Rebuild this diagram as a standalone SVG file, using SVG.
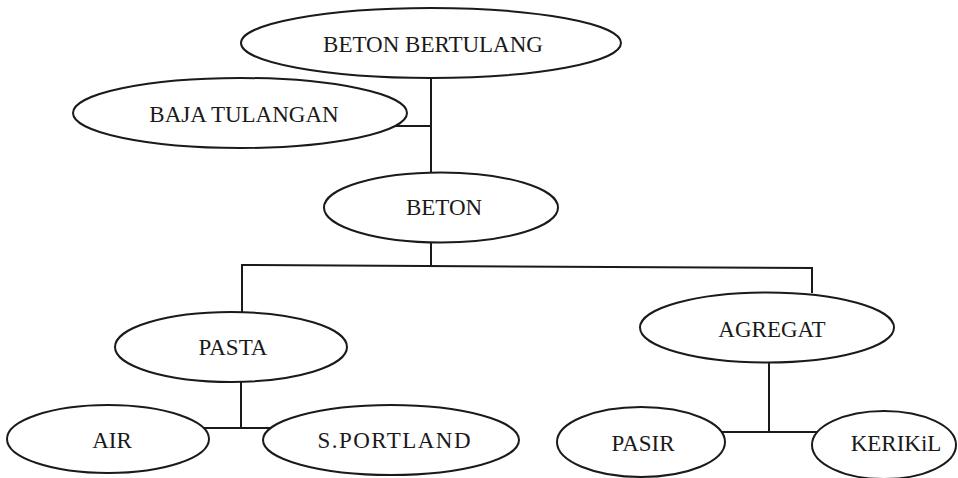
<svg xmlns="http://www.w3.org/2000/svg" width="958" height="478" viewBox="0 0 958 478">
<style>
.n{fill:#fff;stroke:#1a1a1a;stroke-width:2}
.c{fill:none;stroke:#1a1a1a;stroke-width:2}
text{font-family:"Liberation Serif","Times New Roman",serif;font-size:23px;fill:#1a1a1a;text-anchor:middle}
</style>
<rect width="958" height="478" fill="#fff"/>
<g id="connectors">
<polyline class="c" points="431,78 431,173"/>
<polyline class="c" points="395,126 431,126"/>
<polyline class="c" points="431,242 431,266"/>
<polyline class="c" points="242,312 242,265 812,268 812,293"/>
<polyline class="c" points="241,382 241,428"/>
<polyline class="c" points="204,428 271,428"/>
<polyline class="c" points="769,362 769,432"/>
<polyline class="c" points="721,432 818,432"/>
</g>
<g id="beton-bertulang"><ellipse class="n" cx="431" cy="43" rx="190" ry="35"/><text x="433" y="52">BETON BERTULANG</text></g>
<g id="baja-tulangan"><ellipse class="n" cx="240" cy="113" rx="167" ry="35"/><text x="244" y="122">BAJA TULANGAN</text></g>
<g id="beton"><ellipse class="n" cx="441" cy="207.5" rx="117" ry="35"/><text x="444" y="215">BETON</text></g>
<g id="pasta"><ellipse class="n" cx="231" cy="347" rx="116" ry="35"/><text x="233" y="355">PASTA</text></g>
<g id="agregat"><ellipse class="n" cx="767" cy="327.5" rx="127" ry="35"/><text x="772" y="337">AGREGAT</text></g>
<g id="air"><ellipse class="n" cx="108" cy="439" rx="101" ry="34"/><text x="112" y="448">AIR</text></g>
<g id="s-portland"><ellipse class="n" cx="391" cy="440" rx="128" ry="35"/><text x="394" y="448" textLength="153">S.PORTLAND</text></g>
<g id="pasir"><ellipse class="n" cx="641" cy="442" rx="84" ry="35"/><text x="643" y="451">PASIR</text></g>
<g id="kerikil"><ellipse class="n" cx="884" cy="445" rx="72" ry="34"/><text x="896" y="451">KERIKiL</text></g>
</svg>
